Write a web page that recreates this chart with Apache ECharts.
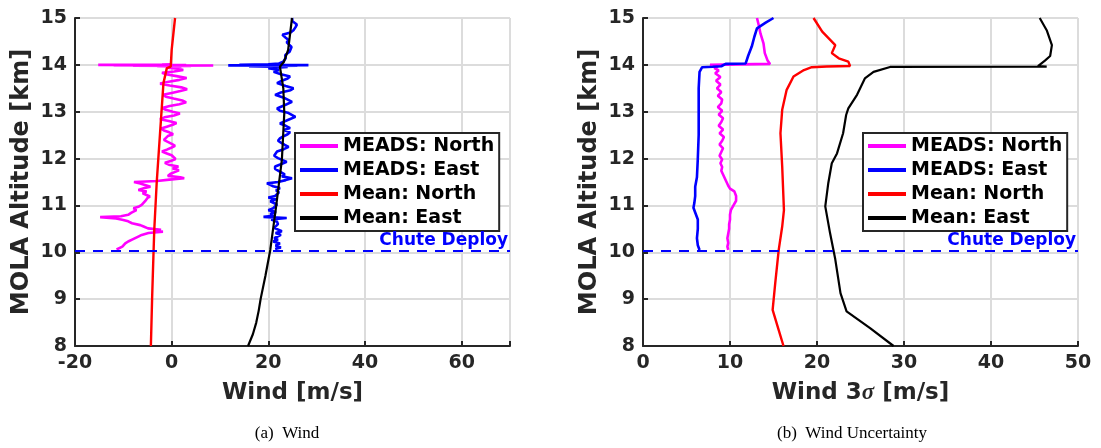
<!DOCTYPE html>
<html><head><meta charset="utf-8">
<script src="https://cdn.jsdelivr.net/npm/echarts@6/dist/echarts.min.js"></script>
<style>html,body{margin:0;padding:0;background:#fff;}#c{width:1101px;height:448px;}</style>
</head><body><div id="c"></div>
<script>
// ---------- Left panel: Wind ----------
const L_MEADS_N_ALT = [10.06,10.09,10.12,10.15,10.19,10.23,10.27,10.30,10.34,10.37,10.41,10.44,10.46,10.48,10.51,10.55,10.58,10.62,10.66,10.69,10.72,10.75,10.77,10.80,10.84,10.87,10.90,10.94,10.97,11.01,11.05,11.09,11.12,11.16,11.19,11.22,11.26,11.30,11.33,11.37,11.40,11.44,11.47,11.50,11.52,11.55,11.58,11.60,11.63,11.67,11.71,11.75,11.79,11.83,11.87,11.91,11.95,11.99,12.03,12.07,12.11,12.15,12.19,12.23,12.27,12.31,12.36,12.40,12.44,12.48,12.52,12.56,12.60,12.64,12.68,12.72,12.76,12.80,12.84,12.88,12.92,12.96,13.00,13.04,13.08,13.12,13.16,13.20,13.24,13.28,13.32,13.36,13.40,13.44,13.48,13.52,13.56,13.60,13.64,13.68,13.72,13.76,13.80,13.83,13.86,13.89,13.92,13.94,13.96,13.97,13.975,13.98,13.985,13.99,13.995,14.00,14.005,14.01];
const L_MEADS_N = [-11.4,-11.0,-10.2,-10.6,-9.6,-9.0,-8.2,-7.9,-6.8,-6.2,-4.8,-1.8,-3.5,-2.2,-4.9,-5.8,-6.5,-8.2,-9.0,-10.0,-11.5,-14.8,-10.5,-9.0,-8.4,-8.6,-7.3,-7.9,-6.9,-6.2,-6.6,-5.5,-5.9,-5.0,-4.5,-4.8,-6.0,-5.2,-6.9,-5.6,-4.4,-4.1,-6.5,-7.8,-3.0,-0.5,2.6,1.8,-0.8,-0.3,0.6,1.5,0.2,1.4,-0.6,-1.4,-0.2,0.8,1.1,0.0,-1.0,-2.0,-1.0,-0.1,0.7,0.1,-0.9,-1.6,-1.8,-0.8,0.3,-0.5,-1.6,-2.2,-1.0,0.2,1.0,-0.6,-2.4,-1.5,0.5,1.7,0.2,-1.2,-2.0,-0.4,1.6,3.0,2.2,0.4,-1.2,-1.8,0.0,1.8,3.2,2.0,-0.4,-2.4,-0.6,1.6,3.1,1.0,-1.2,-2.0,0.5,2.4,1.2,-0.8,2.0,-3.0,4.0,-8.0,8.6,-12.0,3.0,-15.2,-2.0,0.0];

const L_MEADS_E_ALT = [10.07,10.10,10.14,10.19,10.23,10.27,10.30,10.33,10.37,10.41,10.45,10.48,10.52,10.56,10.60,10.65,10.70,10.73,10.755,10.78,10.82,10.86,10.90,10.94,10.98,11.02,11.05,11.09,11.13,11.17,11.20,11.24,11.28,11.32,11.37,11.41,11.44,11.47,11.50,11.54,11.58,11.62,11.66,11.69,11.73,11.78,11.83,11.88,11.93,11.97,12.01,12.06,12.10,12.15,12.20,12.25,12.29,12.34,12.38,12.43,12.47,12.52,12.56,12.61,12.65,12.70,12.75,12.79,12.84,12.89,12.93,12.98,13.02,13.07,13.11,13.16,13.21,13.25,13.30,13.36,13.41,13.46,13.50,13.55,13.61,13.66,13.71,13.75,13.80,13.85,13.89,13.93,13.955,13.97,13.98,13.99,13.995,14.00,14.01,14.03,14.07,14.14,14.21,14.28,14.32,14.38,14.42,14.48,14.53,14.58,14.64,14.69,14.74,14.80,14.86,14.89,14.93,14.97,15.0];
const L_MEADS_E = [21.4,22.6,21.5,22.4,21.0,22.0,21.2,21.6,22.6,21.5,22.8,22.4,21.2,21.0,22.0,21.8,20.6,23.8,19.0,21.2,20.4,21.6,20.0,21.0,20.6,21.8,21.4,20.4,21.6,20.0,21.4,21.0,22.2,21.6,22.4,21.0,20.4,19.7,22.0,23.6,24.9,22.8,23.4,23.1,22.2,21.4,21.4,22.6,23.8,23.4,22.0,21.2,21.1,21.8,23.2,24.2,23.4,22.6,22.0,22.4,23.0,24.0,24.5,23.2,24.5,23.6,22.4,22.6,24.4,25.6,25.9,24.0,22.4,21.8,22.0,23.8,24.9,24.9,23.2,21.4,22.6,24.6,25.2,23.6,21.8,22.8,24.0,24.5,22.6,21.1,22.2,20.0,24.0,16.0,26.0,11.7,28.3,14.0,20.0,22.2,23.1,23.6,23.5,24.4,24.2,24.8,24.5,23.8,24.2,23.6,22.9,24.6,25.2,25.6,25.9,25.6,25.0,25.3,24.9];

const L_MEAN_N_ALT = [8, 9, 9.84, 10.48, 11.48, 12.55, 13.61, 13.93, 13.96, 14.32, 15];
const L_MEAN_N = [-4.3, -4.05, -3.8, -3.6, -3.1, -2.4, -1.7, -1.0, -0.2, 0.0, 0.7];

const L_MEAN_E_ALT = [8, 8.25, 8.5, 8.75, 9.0, 9.5, 10.05, 10.97, 11.97, 12.97, 13.5, 13.96, 14.0, 14.06, 14.32, 15];
const L_MEAN_E = [15.8, 16.8, 17.5, 18.0, 18.4, 19.4, 20.4, 21.6, 22.8, 23.3, 23.1, 22.4, 22.6, 23.2, 24.1, 24.9];

// ---------- Right panel: Wind uncertainty (3 sigma) ----------
const R_MEADS_N_ALT = [10.05,10.12,10.2,10.3,10.4,10.5,10.6,10.7,10.8,10.9,11.0,11.1,11.2,11.3,11.36,11.42,11.5,11.58,11.66,11.74,11.82,11.9,11.98,12.06,12.14,12.22,12.3,12.38,12.46,12.54,12.62,12.7,12.78,12.86,12.94,13.02,13.1,13.18,13.26,13.34,13.42,13.5,13.58,13.66,13.74,13.82,13.88,13.93,13.96,13.99,14.0,14.02,14.1,14.25,14.46,14.67,14.85,15.0];
const R_MEADS_N = [9.8,9.7,9.8,9.7,9.8,9.9,9.9,10.0,10.0,10.1,10.4,10.7,10.7,10.5,10.0,9.8,9.6,9.4,9.2,9.0,9.1,8.9,9.1,8.8,9.0,9.2,8.8,9.1,9.3,8.8,9.2,8.7,9.0,9.2,8.7,9.1,8.6,9.0,9.1,8.6,9.0,8.5,8.9,8.4,8.9,8.3,8.7,8.2,8.6,8.0,7.7,14.6,14.3,14.0,13.85,13.5,13.3,13.1];

const R_MEADS_E_ALT = [10.05,10.15,10.3,10.5,10.7,10.85,10.95,11.05,11.2,11.4,11.6,12.0,12.5,13.0,13.5,13.85,13.95,13.96,13.97,14.02,14.03,14.2,14.39,14.6,14.78,14.9,15.0];
const R_MEADS_E = [6.5,6.3,6.2,6.3,6.3,6.0,5.8,5.9,6.0,6.0,6.2,6.3,6.4,6.4,6.4,6.5,6.8,8.0,9.0,9.5,11.8,12.1,12.5,12.8,13.1,14.1,15.0];

const R_MEAN_N_ALT = [8, 8.34, 8.77, 9.34, 10.05, 10.55, 10.9, 11.83, 12.54, 13.04, 13.46, 13.75, 13.89, 13.95, 13.965, 13.975, 14.07, 14.14, 14.25, 14.42, 14.71, 15];
const R_MEAN_N = [16.15, 15.6, 14.9, 15.2, 15.6, 16.0, 16.2, 16.0, 15.8, 16.0, 16.5, 17.3, 18.5, 19.4, 21.1, 23.8, 23.6, 22.5, 21.7, 22.1, 20.6, 19.6];

const R_MEAN_E_ALT = [8, 8.38, 8.74, 9.13, 9.85, 10.41, 10.98, 11.48, 11.9, 12.11, 12.54, 12.93, 13.07, 13.36, 13.71, 13.85, 13.955, 13.962, 13.975, 14.09, 14.19, 14.42, 14.74, 15];
const R_MEAN_E = [28.8, 26.1, 23.4, 22.7, 22.1, 21.5, 20.95, 21.3, 21.7, 22.3, 23.0, 23.35, 23.6, 24.6, 25.5, 26.5, 28.4, 46.4, 45.4, 46.2, 46.8, 47.0, 46.4, 45.6];

const CHUTE_ALT = 10.03;
const SERIES_NAMES = ['MEADS: North', 'MEADS: East', 'Mean: North', 'Mean: East'];
const SERIES_COLORS = ['#ff00ff', '#0000ff', '#ff0000', '#000000'];
const X_LEFT = {min: -20, max: 70, interval: 20};
const X_RIGHT = {min: 0, max: 50, interval: 10};
const Y_RANGE = {min: 8, max: 15, interval: 1};

function pairs(w, a) { return w.map((v, i) => [v, a[i]]); }

const FONT = 'DejaVu Sans';
const AX = '#262626';

function xAxis(grid, r, name, hideMax) {
  return {
    type: 'value', gridIndex: grid, min: r.min, max: r.max, interval: r.interval,
    axisLine: {show: true, onZero: false, lineStyle: {color: AX, width: 2}},
    axisTick: {show: true, inside: true, length: 5, lineStyle: {color: AX, width: 2}},
    axisLabel: {fontFamily: FONT, fontWeight: 'bold', fontSize: 19, color: AX, margin: 8,
      formatter: v => (hideMax && v === r.max) ? '' : String(v)},
    splitLine: {show: true, lineStyle: {color: '#dcdcdc', width: 2}},
    name: name, nameLocation: 'middle', nameGap: 36,
    nameTextStyle: {fontFamily: FONT, fontWeight: 'bold', fontSize: 23, color: AX,
      rich: {
        a: {fontFamily: FONT, fontWeight: 'bold', fontSize: 23, color: AX},
        s: {fontFamily: 'Liberation Serif', fontStyle: 'italic', fontSize: 23, color: AX}
      }}
  };
}
function yAxis(grid) {
  return {
    type: 'value', gridIndex: grid, min: Y_RANGE.min, max: Y_RANGE.max, interval: Y_RANGE.interval,
    axisLine: {show: true, onZero: false, lineStyle: {color: AX, width: 2}},
    axisTick: {show: true, inside: true, length: 5, lineStyle: {color: AX, width: 2}},
    axisLabel: {fontFamily: FONT, fontWeight: 'bold', fontSize: 19, color: AX, margin: 8},
    splitLine: {show: true, lineStyle: {color: '#dcdcdc', width: 2}},
    name: 'MOLA Altitude [km]', nameLocation: 'middle', nameGap: 41, nameRotate: 90,
    nameTextStyle: {fontFamily: FONT, fontWeight: 'bold', fontSize: 24, color: AX}
  };
}
function line(name, color, data, g, width, extra) {
  return Object.assign({
    type: 'line', name: name, xAxisIndex: g, yAxisIndex: g, data: data,
    showSymbol: false, symbol: 'none', animation: false, silent: true,
    lineStyle: {color: color, width: width}, itemStyle: {color: color}
  }, extra || {});
}
function chute(g) {
  return {markLine: {
    silent: true, symbol: 'none', animation: false,
    data: [{yAxis: CHUTE_ALT}],
    lineStyle: {color: '#0000ff', width: 2, type: [10, 8]},
    label: {show: true, formatter: 'Chute Deploy', position: 'insideEndTop', distance: 2,
      fontFamily: FONT, fontWeight: 'bold', fontSize: 17, color: '#0000ff'}
  }};
}
function legend(left) {
  return {
    data: SERIES_NAMES, orient: 'vertical', left: left, top: 133,
    icon: 'rect', itemWidth: 38, itemHeight: 4, itemGap: 4, itemTextGap: 6,
    padding: [3, 5, 3, 5], backgroundColor: '#fff', borderColor: AX, borderWidth: 2,
    borderRadius: 0, selectedMode: false,
    textStyle: {fontFamily: FONT, fontWeight: 'bold', fontSize: 19, color: '#000', lineHeight: 20}
  };
}

const chart = echarts.init(document.getElementById('c'), null, {renderer: 'canvas'});
chart.setOption({
  animation: false,
  backgroundColor: '#fff',
  grid: [
    {left: 75, top: 18, width: 435, height: 328},
    {left: 643, top: 18, width: 435, height: 328}
  ],
  xAxis: [xAxis(0, X_LEFT, 'Wind [m/s]', true), xAxis(1, X_RIGHT, '{a|Wind 3}{s|σ}{a| [m/s]}', false)],
  yAxis: [yAxis(0), yAxis(1)],
  legend: [legend(295), legend(863)],
  series: [
    line(SERIES_NAMES[0], SERIES_COLORS[0], pairs(L_MEADS_N, L_MEADS_N_ALT), 0, 2.6),
    line(SERIES_NAMES[1], SERIES_COLORS[1], pairs(L_MEADS_E, L_MEADS_E_ALT), 0, 2.6),
    line(SERIES_NAMES[2], SERIES_COLORS[2], pairs(L_MEAN_N, L_MEAN_N_ALT), 0, 2.4),
    line(SERIES_NAMES[3], SERIES_COLORS[3], pairs(L_MEAN_E, L_MEAN_E_ALT), 0, 2.2, chute(0)),
    line(SERIES_NAMES[0], SERIES_COLORS[0], pairs(R_MEADS_N, R_MEADS_N_ALT), 1, 2.6),
    line(SERIES_NAMES[1], SERIES_COLORS[1], pairs(R_MEADS_E, R_MEADS_E_ALT), 1, 2.6),
    line(SERIES_NAMES[2], SERIES_COLORS[2], pairs(R_MEAN_N, R_MEAN_N_ALT), 1, 2.4),
    line(SERIES_NAMES[3], SERIES_COLORS[3], pairs(R_MEAN_E, R_MEAN_E_ALT), 1, 2.2, chute(1))
  ],
  graphic: [
    {type: 'text', x: 287, y: 434, style: {text: '(a)  Wind', fontFamily: 'Liberation Serif', fontSize: 17, fill: '#000', align: 'center', verticalAlign: 'middle'}},
    {type: 'text', x: 852, y: 434, style: {text: '(b)  Wind Uncertainty', fontFamily: 'Liberation Serif', fontSize: 17, fill: '#000', align: 'center', verticalAlign: 'middle'}}
  ]
});
</script></body></html>
